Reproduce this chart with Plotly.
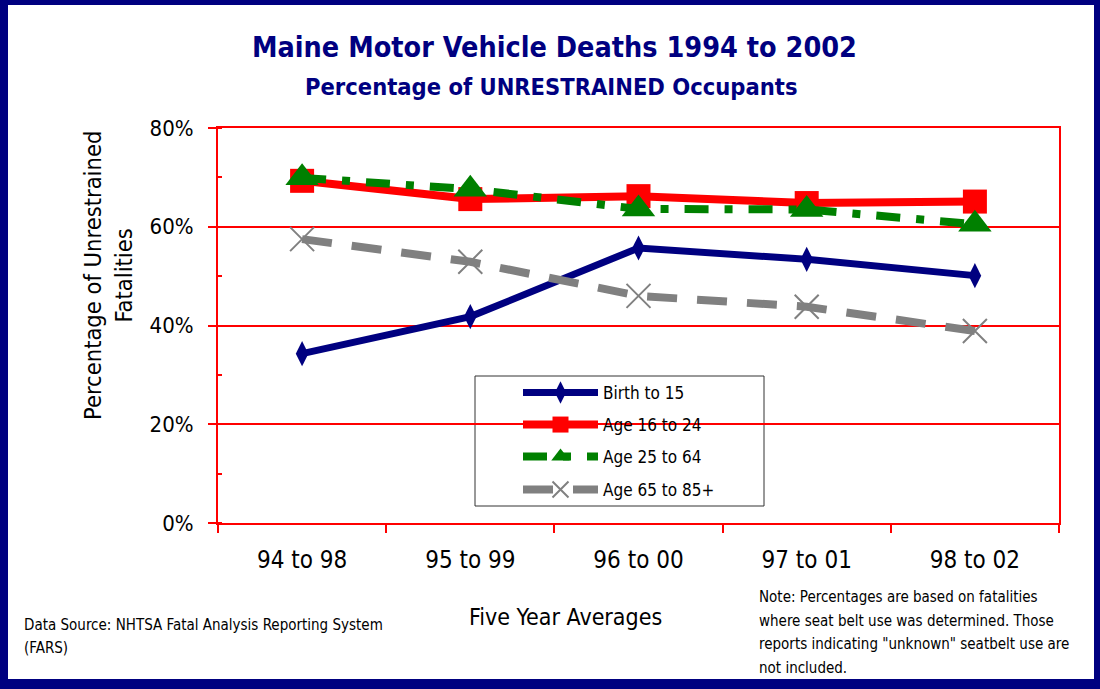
import plotly.graph_objects as go

# ---------------- data ----------------
categories = ["94 to 98", "95 to 99", "96 to 00", "97 to 01", "98 to 02"]
birth_to_15 = [34.3, 41.8, 55.7, 53.4, 50.1]
age_16_24 = [69.3, 65.6, 66.2, 64.8, 65.1]
age_25_64 = [69.9, 67.6, 63.6, 63.5, 60.5]
age_65_85 = [57.5, 52.9, 46.0, 43.8, 38.9]
series_names = ["Birth to 15", "Age 16 to 24", "Age 25 to 64", "Age 65 to 85+"]
y_ticks = [0, 20, 40, 60, 80]
y_tick_labels = ["0%", "20%", "40%", "60%", "80%"]

title = "Maine Motor Vehicle Deaths 1994 to 2002"
subtitle = "Percentage of UNRESTRAINED Occupants"
y_title = "Percentage of Unrestrained<br>Fatalities"
x_title = "Five Year Averages"
source_lines = ["Data Source: NHTSA Fatal Analysis Reporting System", "(FARS)"]
note_lines = ["Note: Percentages are based on fatalities",
              "where seat belt use was determined. Those",
              "reports indicating \"unknown\" seatbelt use are",
              "not included."]

FONT = "DejaVu Sans Condensed, Liberation Sans Narrow, DejaVu Sans, sans-serif"
NAVY = "#000080"

# plot area in pixels
L, R, T, B = 218, 1059, 128, 523
W, H = 1100, 689


def px_x(X):
    return (X - L) / (R - L)


def px_y(Y):
    return (B - Y) / (B - T)


fig = go.Figure()

styles = [
    dict(color=NAVY, width=7, dash="solid", symbol="diamond-tall", msize=18, mline=0),
    dict(color="#FF0000", width=8, dash="solid", symbol="square", msize=24, mline=0),
    dict(color="#008000", width=8, dash="24px,16px,8px,16px", symbol="triangle-up", msize=29, mline=0),
    dict(color="#808080", width=8, dash="30px,20px", symbol="x-thin-open", msize=24, mline=2),
]
all_values = [birth_to_15, age_16_24, age_25_64, age_65_85]
legend_ids = ["legend", "legend2", "legend3", "legend4"]

for name, vals, st, lid in zip(series_names, all_values, styles, legend_ids):
    marker = dict(symbol=st["symbol"], size=st["msize"], color=st["color"])
    if st["mline"]:
        marker["line"] = dict(color=st["color"], width=st["mline"])
    fig.add_trace(go.Scatter(
        x=categories, y=vals, name=name, mode="lines+markers",
        line=dict(color=st["color"], width=st["width"], dash=st["dash"]),
        marker=marker, legend=lid, showlegend=True, hoverinfo="skip", cliponaxis=False,
    ))

legend_centers = [393, 425, 457, 490]
legend_layouts = {}
for lid, cy in zip(legend_ids, legend_centers):
    legend_layouts[lid] = dict(
        x=px_x(518), y=px_y(cy), xanchor="left", yanchor="middle",
        bgcolor="rgba(0,0,0,0)", borderwidth=0,
        font=dict(family=FONT, size=17, color="black"),
        itemwidth=75, itemclick=False, itemdoubleclick=False,
    )

annotations = [
    dict(text="<b>%s</b>" % title, x=px_x(554), y=px_y(47), font=dict(size=28.5, color=NAVY)),
    dict(text="<b>%s</b>" % subtitle, x=px_x(551), y=px_y(87), font=dict(size=23.5, color=NAVY)),
    dict(text=y_title, x=px_x(108), y=px_y(276), textangle=-90, font=dict(size=23.5, color="black")),
    dict(text=x_title, x=px_x(565), y=px_y(617), font=dict(size=23, color="black")),
]
for i, line in enumerate(source_lines):
    annotations.append(dict(text=line, x=px_x(22), y=px_y(625 + 23 * i), xanchor="left",
                            font=dict(size=15, color="black")))
for i, line in enumerate(note_lines):
    annotations.append(dict(text=line, x=px_x(757), y=px_y(597 + 23.5 * i), xanchor="left",
                            font=dict(size=15, color="black")))
for a in annotations:
    a.update(xref="paper", yref="paper", showarrow=False)
    a.setdefault("xanchor", "center")
    a["yanchor"] = "middle"
    a["font"]["family"] = FONT

shapes = [
    # legend box (above grid, below traces)
    dict(type="rect", xref="paper", yref="paper", x0=px_x(475), x1=px_x(764), y0=px_y(506), y1=px_y(376),
         line=dict(color="#333333", width=1), fillcolor="white", layer="between"),
    # navy frame
    dict(type="rect", xref="paper", yref="paper", x0=px_x(0), x1=px_x(W), y0=px_y(0), y1=px_y(5),
         line=dict(width=0), fillcolor=NAVY, layer="above"),
    dict(type="rect", xref="paper", yref="paper", x0=px_x(0), x1=px_x(W), y0=px_y(679), y1=px_y(H),
         line=dict(width=0), fillcolor=NAVY, layer="above"),
    dict(type="rect", xref="paper", yref="paper", x0=px_x(0), x1=px_x(8), y0=px_y(0), y1=px_y(H),
         line=dict(width=0), fillcolor=NAVY, layer="above"),
    dict(type="rect", xref="paper", yref="paper", x0=px_x(1094), x1=px_x(W), y0=px_y(0), y1=px_y(H),
         line=dict(width=0), fillcolor=NAVY, layer="above"),
]

fig.update_layout(
    width=W, height=H, showlegend=True,
    margin=dict(l=L, r=W - R, t=T, b=H - B, pad=0),
    paper_bgcolor="white", plot_bgcolor="white",
    font=dict(family=FONT, color="black"),
    annotations=annotations, shapes=shapes,
    **legend_layouts,
)

fig.update_xaxes(
    type="category", range=[-0.5, 4.5], showgrid=False,
    showline=True, linecolor="#FF0000", linewidth=2, mirror=True,
    ticks="outside", tickson="boundaries", ticklen=8, tickwidth=2, tickcolor="#FF0000",
    tickfont=dict(family=FONT, size=24, color="black"), ticklabelstandoff=14,
    zeroline=False,
)
fig.update_yaxes(
    range=[0, 80], tickmode="array", tickvals=y_ticks, ticktext=y_tick_labels,
    showgrid=True, gridcolor="#FF0000", gridwidth=2,
    showline=True, linecolor="#FF0000", linewidth=2, mirror=True,
    ticks="outside", ticklen=8, tickwidth=2, tickcolor="#FF0000",
    minor=dict(dtick=10, ticks="inside", ticklen=4, tickwidth=2, tickcolor="#FF0000", showgrid=False),
    tickfont=dict(family=FONT, size=22, color="black"), ticklabelstandoff=10,
    zeroline=False,
)

fig.write_html("out.html", config={"displayModeBar": False},
               post_script="document.body.style.margin='0px';document.body.style.overflow='hidden';")
